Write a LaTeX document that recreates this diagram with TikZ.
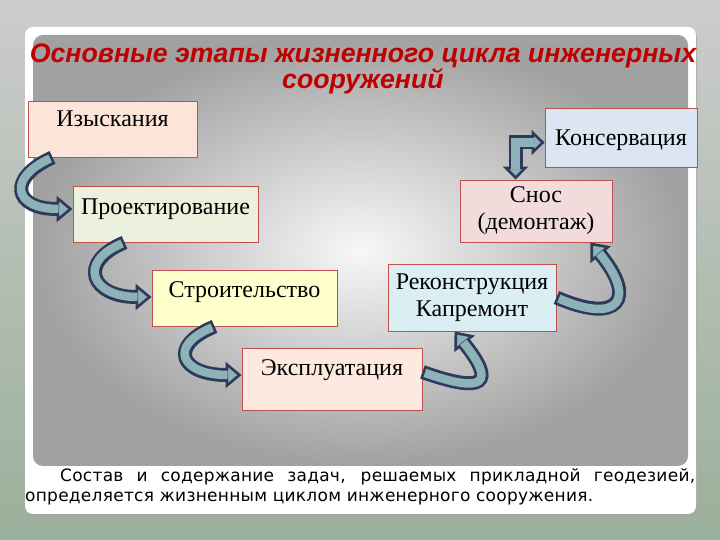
\documentclass[tikz,border=0pt]{standalone}
\usepackage{fontspec}
\setmainfont{Liberation Serif}
\newfontfamily\titlefont{Liberation Sans}
\newfontfamily\notefont[LetterSpace=1.5]{DejaVu Sans}
\usepackage{tikz}
\usetikzlibrary{calc, positioning, arrows.meta}
\definecolor{stageline}{HTML}{C0504D}
\definecolor{arrline}{HTML}{2E3A5A}
\definecolor{arrfill}{HTML}{8DB2B8}
\definecolor{titlered}{HTML}{C00000}
\definecolor{izyfill}{HTML}{FBE5D9}
\definecolor{projfill}{HTML}{EBF1DE}
\definecolor{strofill}{HTML}{FFFFCC}
\definecolor{explfill}{HTML}{FDE9DF}
\definecolor{rekfill}{HTML}{DAEEF3}
\definecolor{snosfill}{HTML}{F2DCDB}
\definecolor{konsfill}{HTML}{DCE6F2}
\tikzstyle{stage}  = [rectangle, draw=stageline, line width=0.9pt, minimum height=56pt, text centered, align=center, font=\fontsize{24}{27}\selectfont]
\tikzstyle{bend arrow} = [line width=14pt, draw=arrline,
   -{Triangle[width=26pt,length=16pt,fill=arrfill,color=arrline,line width=2.6pt]},
   postaction={draw=arrfill, line width=8.5pt, arrows=-, shorten >=14pt, shorten <=2.6pt}]
\tikzstyle{both arrow} = [line width=14pt, draw=arrline,
   {Triangle[width=25pt,length=13pt,fill=arrfill,color=arrline,line width=2.6pt]}-{Triangle[width=25pt,length=13pt,fill=arrfill,color=arrline,line width=2.6pt]},
   postaction={draw=arrfill, line width=8.5pt, arrows=-, shorten >=11pt, shorten <=11pt}]

\begin{document}
\begin{tikzpicture}[x=1pt, y=1pt]
      \useasboundingbox (0,0) rectangle (720,540);
      % slide background
      \shade [top color=black!20, middle color={rgb,255:red,202;green,211;blue,240}, bottom color={rgb,255:red,154;green,176;blue,154}] (0,0) rectangle (720,540);
      \fill [black!35, rounded corners=8pt] (26,23) rectangle (697,511);
      \fill [white, rounded corners=8pt] (25,26) rectangle (696,513);
      \shade [inner color=black!3, outer color=black!37, rounded corners=10pt] (33,74) rectangle (688,505);

      \node (title) [font=\titlefont\bfseries\itshape\fontsize{26.7}{24}\selectfont, text=titlered, align=center] at (363,471) {Основные этапы жизненного цикла инженерных\\сооружений};

      \node (izy)  [stage, fill=izyfill, minimum width=169pt, text depth=20pt] at (112.5,411) {Изыскания};
      \node (proj) [stage, fill=projfill, minimum width=185pt, text depth=15pt] at (165.5,326) {Проектирование};
      \node (stro) [stage, fill=strofill, minimum width=185pt, text depth=16pt] at (244.5,242) {Строительство};
      \node (expl) [stage, fill=explfill, minimum width=180pt, minimum height=62pt, text depth=22pt] at (332,161) {Эксплуатация};
      \node (rek)  [stage, fill=rekfill, minimum width=168pt, minimum height=67pt] at (472,242.5) {Реконструкция\\Капремонт};
      \node (snos) [stage, fill=snosfill, minimum width=152pt, minimum height=62pt] at (536,329) {Снос\\(демонтаж)};
      \node (kons) [stage, fill=konsfill, minimum width=152pt, minimum height=59pt, text height=22pt] at (621,402.5) {Консервация};

      \draw [bend arrow] ([xshift=25pt]izy.south west) .. controls +(-45,-20) and +(-60,0) .. ([yshift=5pt]proj.west);
      \draw [bend arrow] ([xshift=52pt]proj.south west) .. controls +(-48,-20) and +(-60,0) .. ([yshift=1pt]stro.west);
      \draw [bend arrow] ([xshift=63pt]stro.south west) .. controls +(-48,-20) and +(-60,0) .. ([yshift=4pt]expl.west);
      \draw [bend arrow] ([yshift=7pt]expl.east) .. controls +(62,-22) and +(42,-52) .. ([xshift=67pt]rek.south west);
      \draw [bend arrow] (rek.east) .. controls +(62,-27) and +(47,-57) .. ([xshift=-22pt]snos.south east);
      \draw [both arrow] ([xshift=56pt]snos.north west) |- ([yshift=-5pt]kons.west);

      \node (note) [anchor=north west, inner sep=0pt, text width=670pt, align=justify, font=\notefont\fontsize{17}{20}\selectfont] at (25,72) {\hspace*{35pt}Состав и содержание задач, решаемых прикладной геодезией,\linebreak определяется жизненным циклом инженерного сооружения.};
\end{tikzpicture}
\end{document}
